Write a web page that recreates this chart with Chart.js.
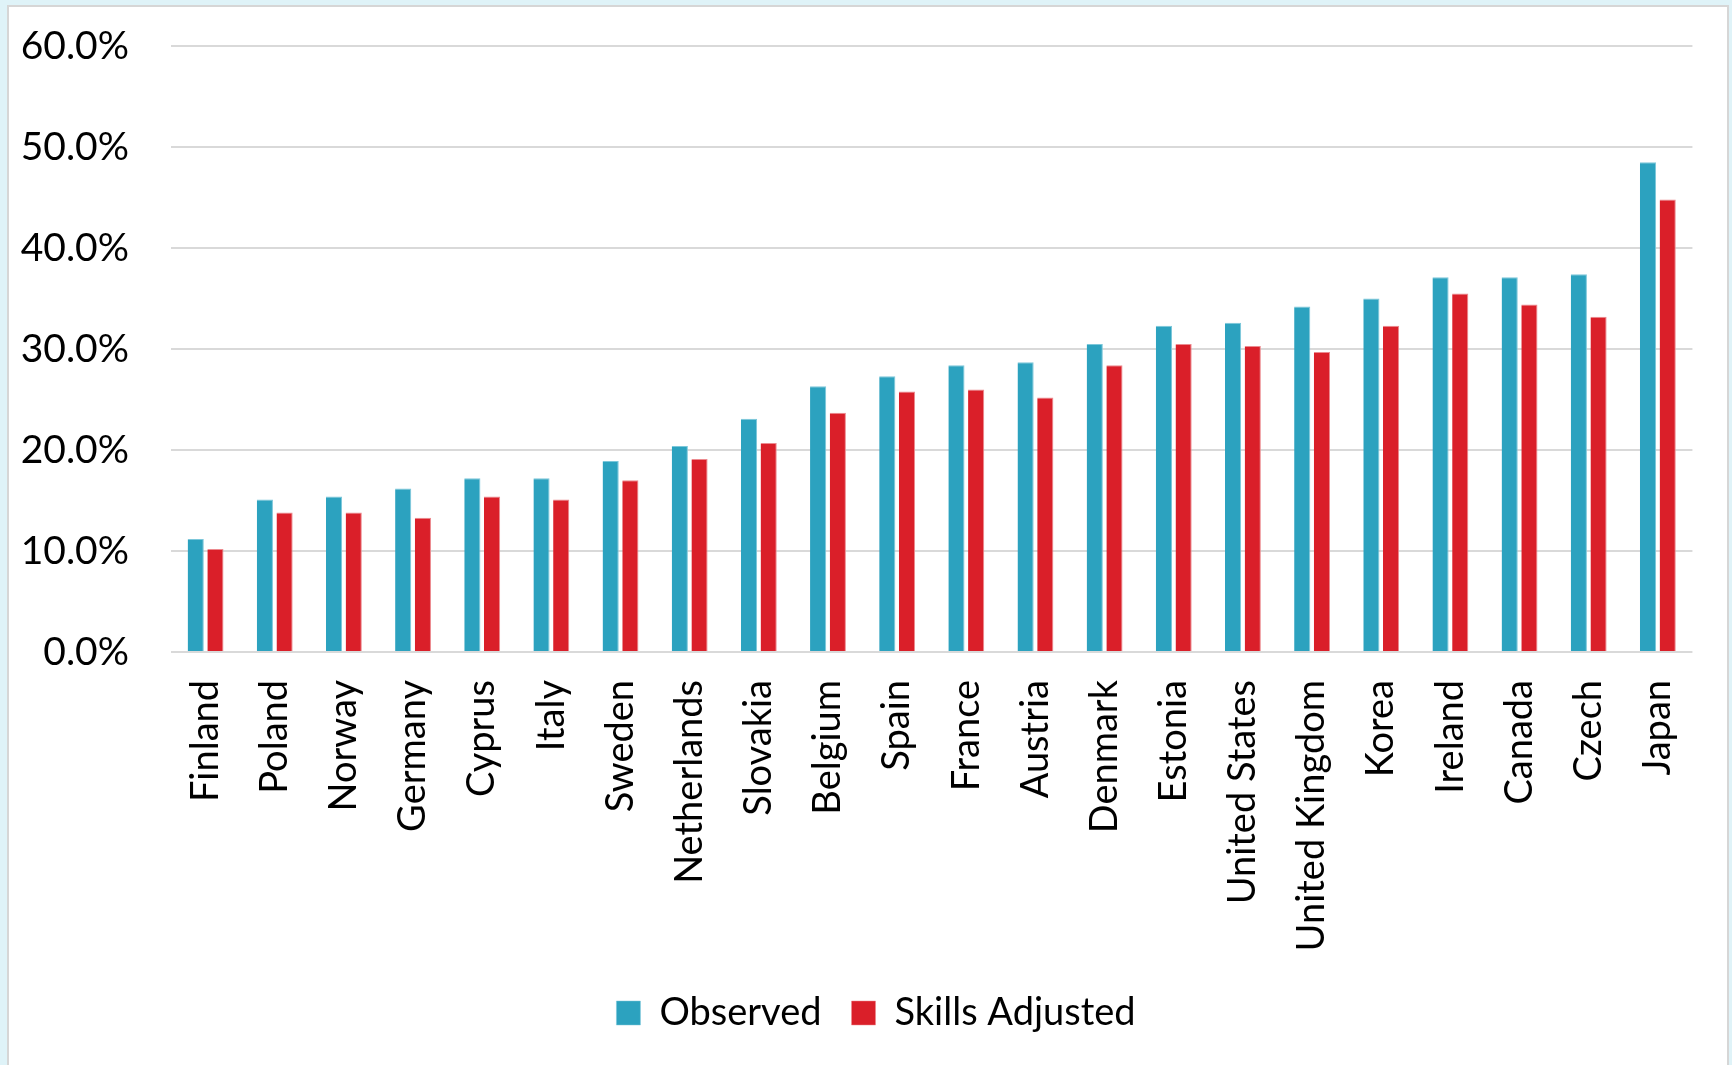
<!DOCTYPE html>
<html>
<head>
<meta charset="utf-8">
<script src="https://cdn.jsdelivr.net/npm/chart.js@4.4.0/dist/chart.umd.min.js"></script>
<style>
  html, body { margin:0; padding:0; width:1732px; height:1065px; overflow:hidden; background:#dff3f8; }
  #frame { position:absolute; left:7px; top:5px; width:1722px; height:1100px; background:#ffffff;
           border-left:2px solid #d6d6d6; border-top:2px solid #d6d6d6; border-right:2px solid #d6d6d6; box-sizing:border-box; }
  #wrap { position:absolute; left:0; top:0; width:1732px; height:1065px; }
</style>
</head>
<body>
<div id="frame"></div>
<div id="wrap"><canvas id="c" width="1732" height="1065"></canvas></div>
<script>
const categories = ["Finland","Poland","Norway","Germany","Cyprus","Italy","Sweden","Netherlands","Slovakia","Belgium","Spain","France","Austria","Denmark","Estonia","United States","United Kingdom","Korea","Ireland","Canada","Czech","Japan"];
const observed = [11.2,15.1,15.4,16.2,17.2,17.2,18.9,20.4,23.1,26.3,27.3,28.4,28.7,30.5,32.3,32.6,34.2,35.0,37.1,37.1,37.4,48.5];
const skillsAdjusted = [10.2,13.8,13.8,13.3,15.4,15.1,17.0,19.1,20.7,23.7,25.8,26.0,25.2,28.4,30.5,30.3,29.7,32.3,35.5,34.4,33.2,44.8];
const seriesNames = ["Observed","Skills Adjusted"];
const yTicks = [0,10,20,30,40,50,60];

const FONT = "Lato";
Chart.defaults.font.family = FONT;
Chart.defaults.color = "#000000";

const legendShift = {
  id: "legendShift",
  afterLayout(chart) {
    if (chart.legend) { chart.legend.left += 22; chart.legend.right += 22; }
  }
};

new Chart(document.getElementById("c"), {
  type: "bar",
  data: {
    labels: categories,
    datasets: [
      { label: seriesNames[0], data: observed, backgroundColor: "#2ca2bf", borderColor: "#7cc7da", borderWidth: {top:1,right:1,left:0,bottom:0}, categoryPercentage: 0.57, barPercentage: 0.82 },
      { label: seriesNames[1], data: skillsAdjusted, backgroundColor: "#da1f29", borderColor: "#ec8a8f", borderWidth: {top:1,right:1,left:0,bottom:0}, categoryPercentage: 0.57, barPercentage: 0.82 }
    ]
  },
  plugins: [legendShift],
  options: {
    responsive: false,
    animation: false,
    layout: { padding: { top: 46, right: 24, left: 0, bottom: 23 } },
    plugins: {
      tooltip: { enabled: false },
      legend: {
        position: "bottom",
        labels: { boxWidth: 24, boxHeight: 24, padding: 30, color: "#000", font: { family: FONT, size: 38 } }
      }
    },
    scales: {
      x: {
        grid: { display: false, drawTicks: false },
        border: { display: false },
        ticks: { autoSkip: false, minRotation: 90, maxRotation: 90, padding: 28, color: "#000", font: { family: FONT, size: 38 } },
        afterFit: (s) => { s.height = 312; }
      },
      y: {
        min: 0, max: 60,
        afterBuildTicks: (s) => { s.ticks = yTicks.map(v => ({ value: v })); },
        grid: { color: "#d9d9d9", lineWidth: 2, drawTicks: false },
        border: { display: false },
        ticks: { padding: 42, color: "#000", font: { family: FONT, size: 39 }, callback: (v) => Number(v).toFixed(1) + "%" },
        afterFit: (s) => { s.width = 171; s.paddingTop = 0; s.paddingBottom = 0; }
      }
    }
  }
});
</script>
</body>
</html>
